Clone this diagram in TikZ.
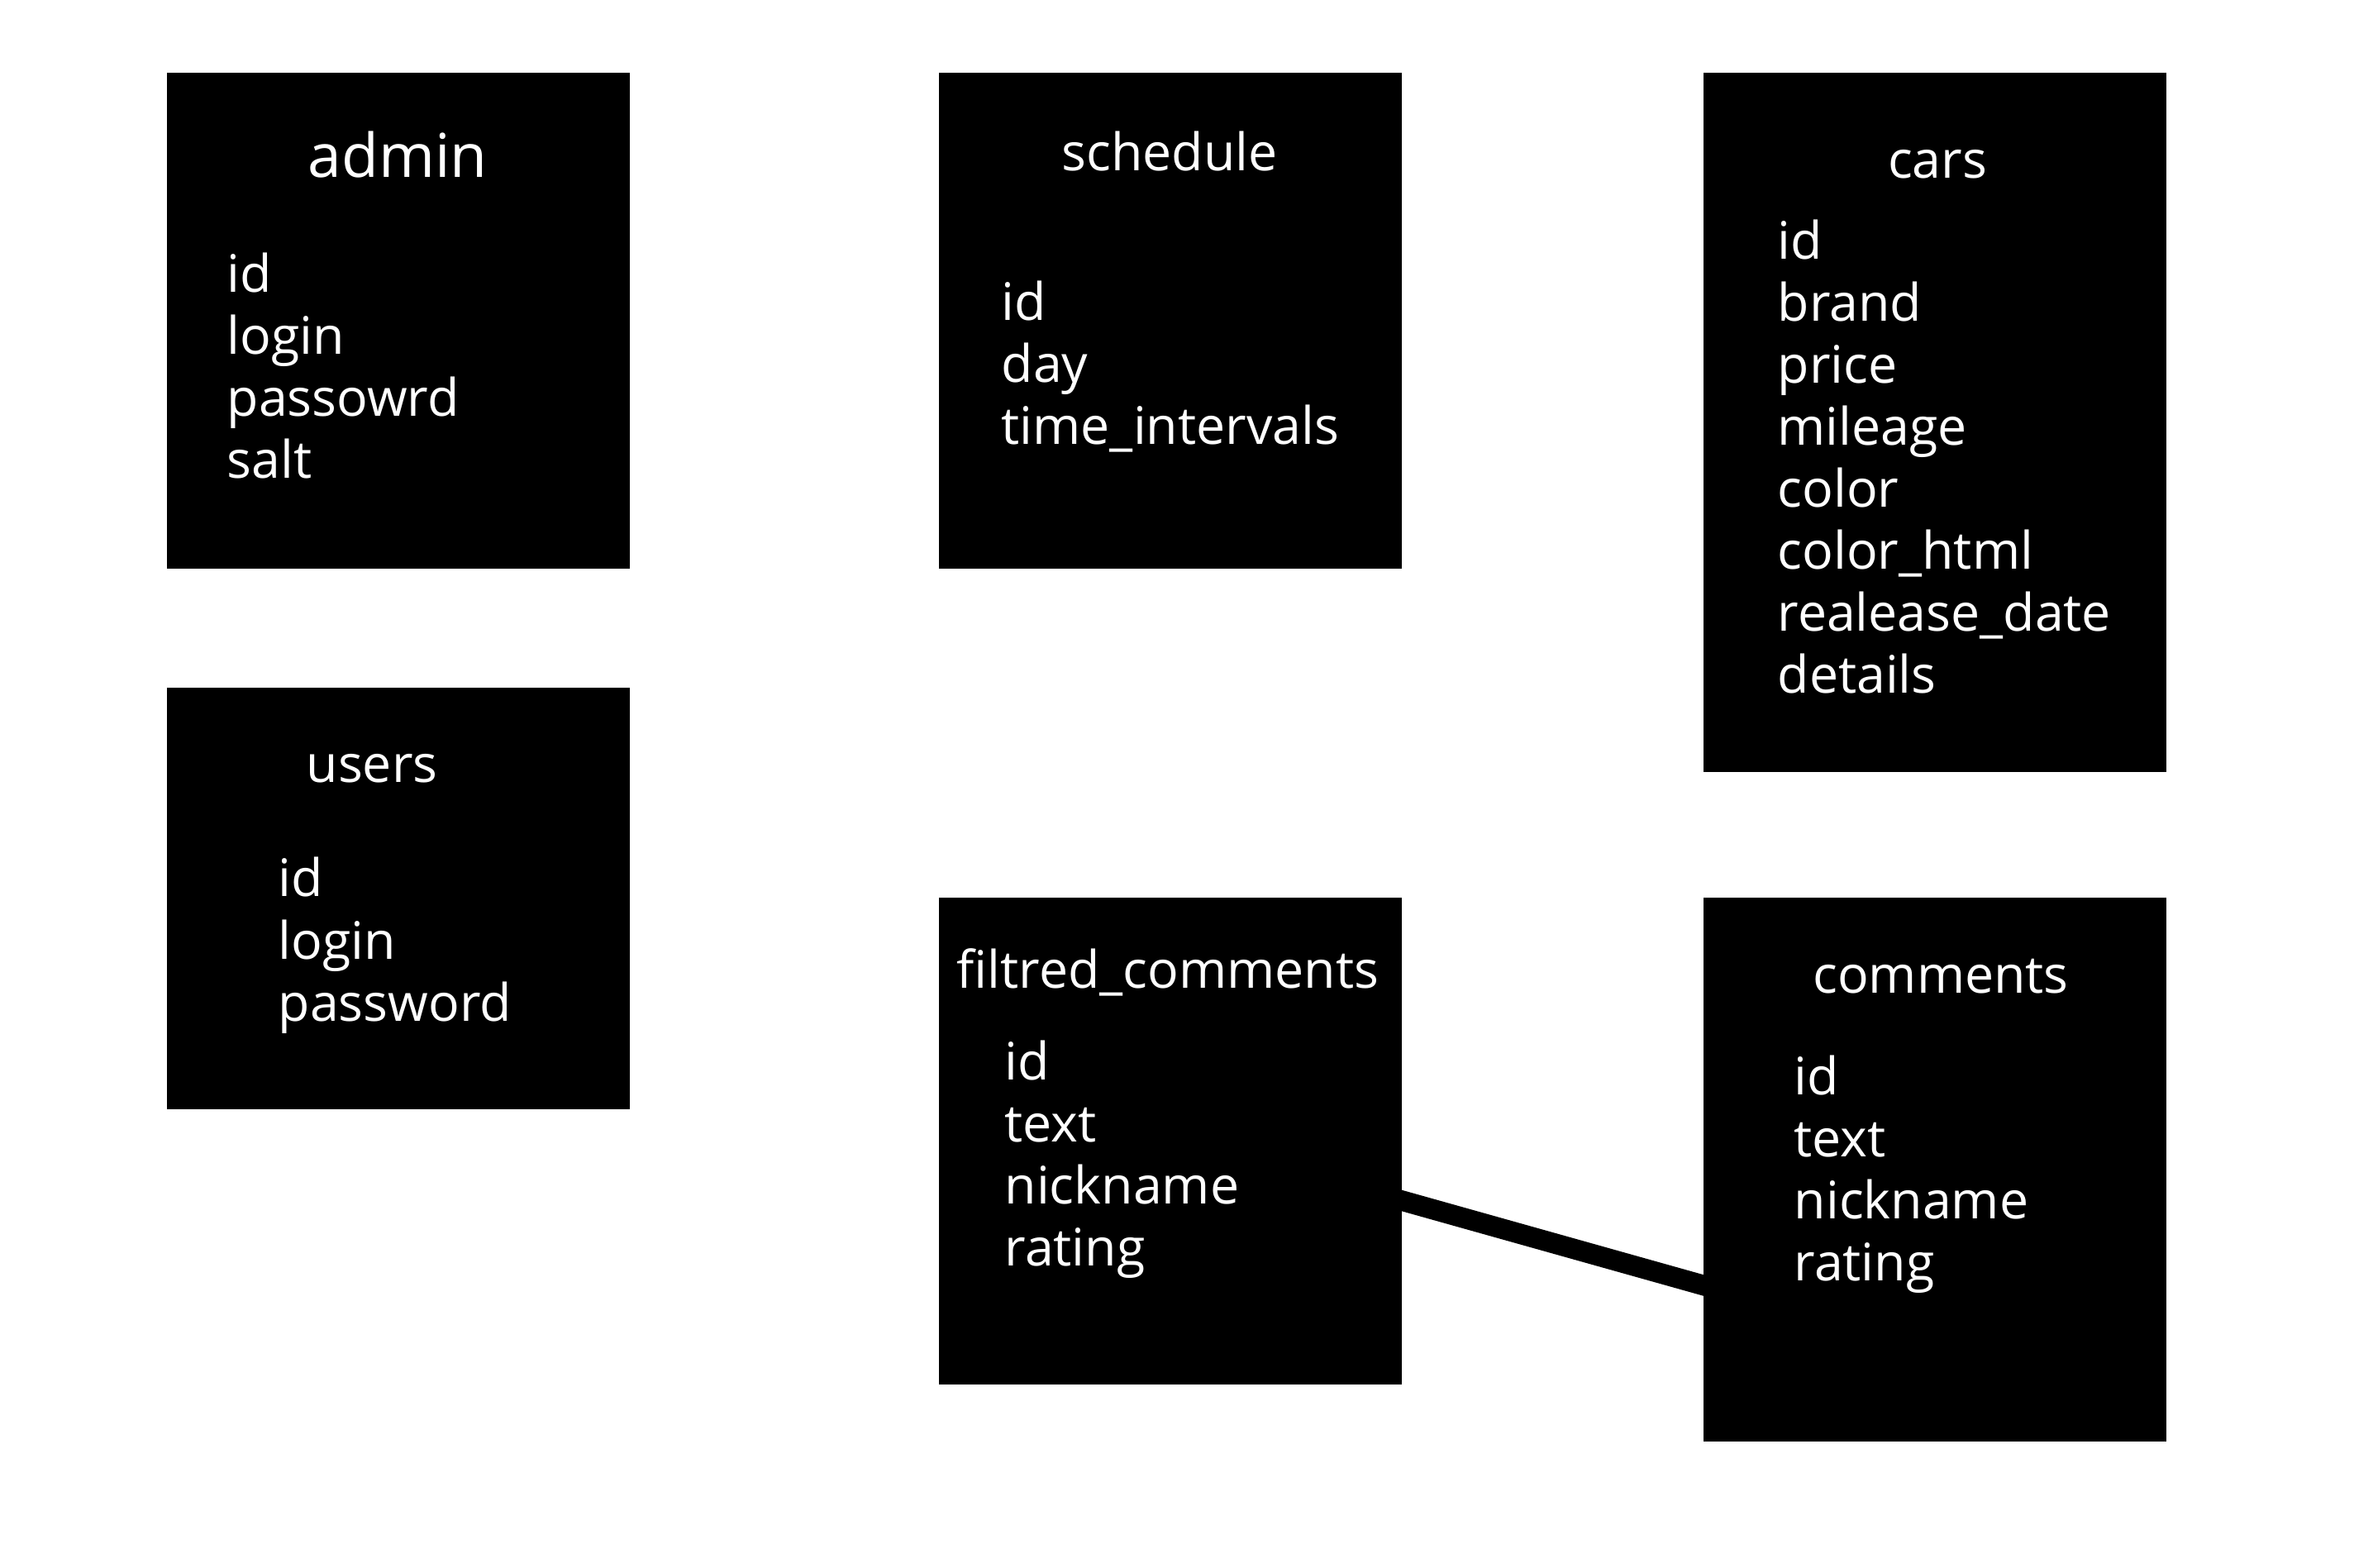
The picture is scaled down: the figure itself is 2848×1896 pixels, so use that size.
\documentclass[tikz,border=0pt]{standalone}
\usepackage{fontspec}
\setmainfont{Open Sans}
\usetikzlibrary{positioning, calc}

\begin{document}
\begin{tikzpicture}[x=0.01cm, y=-0.01cm,
    tblbox/.style={fill=black, draw=none, anchor=north west, outer sep=0pt, inner sep=0pt, minimum width=5.6cm},
    tbltitle/.style={text=white, inner sep=0pt, font=\fontsize{17.8}{21}\selectfont, text height=0.74em, text depth=0.2em},
    field/.style={tbltitle, anchor=west},
    link/.style={line width=7pt, shorten <=-2mm, shorten >=-2mm}]
\useasboundingbox[fill=white] (0,0) rectangle (2848,1896);

% connector first, boxes on top
\coordinate (fcom-out) at (1696,1452.5);
\coordinate (com-in) at (2061,1555);
\draw[link] (fcom-out) -- (com-in);

% tables
\node[tblbox, minimum height=6cm] (admin) at (202,88) {};
\node[tblbox, minimum height=6cm] (schedule) at (1136,88) {};
\node[tblbox, minimum height=8.455cm] (cars) at (2061,88) {};
\node[tblbox, minimum height=5.1cm] (users) at (202,832) {};
\node[tblbox, minimum height=5.89cm] (fcom) at (1136,1086) {};
\node[tblbox, minimum height=6.58cm] (com) at (2061,1086) {};

% titles
\node[tbltitle, font=\fontsize{20.8}{24}\selectfont] (admin-t) at (481,205) {admin};
\node[tbltitle] (schedule-t) at (1415,197) {schedule};
\node[tbltitle] (cars-t) at (2344,206) {cars};
\node[tbltitle] (users-t) at (450,937) {users};
\node[tbltitle] (fcom-t) at (1413,1186) {filtred\_comments};
\node[tbltitle] (com-t) at (2348,1192) {comments};

% fields
\foreach \f [count=\i from 0] in {id,login,passowrd,salt}
  \node[field] (admin-f\i) at (274,343.5+75*\i) {\f};
\foreach \f [count=\i from 0] in {id,day,time\_intervals}
  \node[field] (schedule-f\i) at (1211,378+75*\i) {\f};
\foreach \f [count=\i from 0] in {id,brand,price,mileage,color,color\_html,realease\_date,details}
  \node[field] (cars-f\i) at (2150,303.6+75*\i) {\f};
\foreach \f [count=\i from 0] in {id,login,password}
  \node[field] (users-f\i) at (336,1075+75.5*\i) {\f};
\foreach \f [count=\i from 0] in {id,text,nickname,rating}
  \node[field] (fcom-f\i) at (1215,1297+75*\i) {\f};
\foreach \f [count=\i from 0] in {id,text,nickname,rating}
  \node[field] (com-f\i) at (2170,1315+75*\i) {\f};
\end{tikzpicture}
\end{document}
